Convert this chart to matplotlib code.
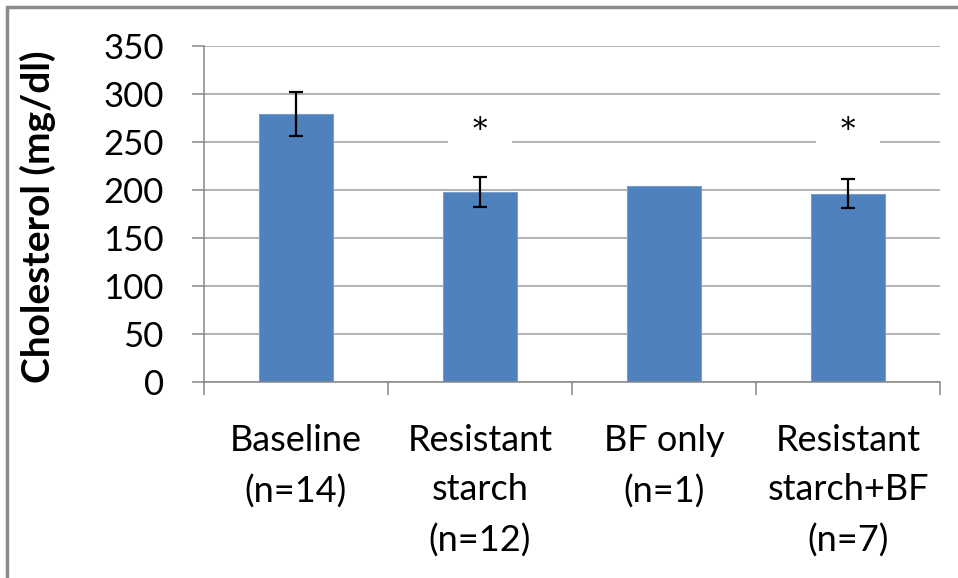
import numpy as np
import matplotlib
matplotlib.use('Agg')
import matplotlib.pyplot as plt
import matplotlib.patches as mpatches

# group labels, mean cholesterol and error bar half-widths
groups = ['Baseline\n(n=14)', 'Resistant\nstarch\n(n=12)', 'BF only\n(n=1)',
          'Resistant\nstarch+BF\n(n=7)']
chol = [279, 198, 204, 196]
err = [23, 16, None, 15]
# groups marked significant
stars = [False, True, False, True]
star_level = 262

plt.rcParams['font.family'] = ['Lato', 'DejaVu Sans']

fig = plt.figure(figsize=(9.58, 5.78), dpi=100)
ax = fig.add_axes([0.2129, 0.3391, 0.7683, 0.5813])

x = np.arange(len(groups))
ax.set_axisbelow(True)
ax.yaxis.grid(True, color='#a6a6a6', lw=1.2)
ax.bar(x, chol, width=0.4, color='#4F81BD', edgecolor='#7a9fcc', lw=0.8, zorder=2)

# error bars only where the group has one
ex = [i for i in x if err[i] is not None]
ax.errorbar(ex, [chol[i] for i in ex], yerr=[err[i] for i in ex], fmt='none',
            ecolor='black', elinewidth=1.6, capsize=4.8, capthick=1.6, zorder=3)

# asterisks sit on a white label box that hides the gridline
sx = [i for i in x if stars[i]]
ax.bar(sx, 40, bottom=star_level - 28, width=0.35, color='white', zorder=2.5)
for i in sx:
    ax.text(i, star_level, '*', ha='center', va='center', fontsize=21,
            family='DejaVu Serif', zorder=4)

ax.set_xlim(-0.5, len(groups) - 0.5)
ax.set_ylim(0, 350)
ax.set_yticks(np.arange(0, 351, 50))
ax.set_xticks(np.arange(len(groups) + 1) - 0.5)
ax.set_xticklabels([])
ax.set_xticks(x, minor=True)
ax.set_xticklabels(groups, minor=True, fontsize=26, linespacing=1.62)
ax.tick_params(axis='x', which='minor', length=0, pad=30)
ax.tick_params(axis='x', which='major', length=9.5, color='#868686', width=1.1)
ax.tick_params(axis='y', length=9, color='#868686', width=1.1, labelsize=25, pad=20)

for s in ['top', 'right']:
    ax.spines[s].set_visible(False)
for s in ['left', 'bottom']:
    ax.spines[s].set_color('#868686')
    ax.spines[s].set_linewidth(1.1)

fig.text(38 / 958, 1 - 217 / 578, 'Cholesterol (mg/dl)', rotation=90,
         ha='center', va='center', fontsize=28, fontweight='bold')

# outer chart border, cut off on the right and bottom
fig.patches.append(mpatches.Rectangle((0.007, -0.5), 2, 1.488, transform=fig.transFigure,
                                      fill=False, ec='#8c8c8c', lw=2.5))

fig.savefig('out.png', dpi=100, facecolor='white')
